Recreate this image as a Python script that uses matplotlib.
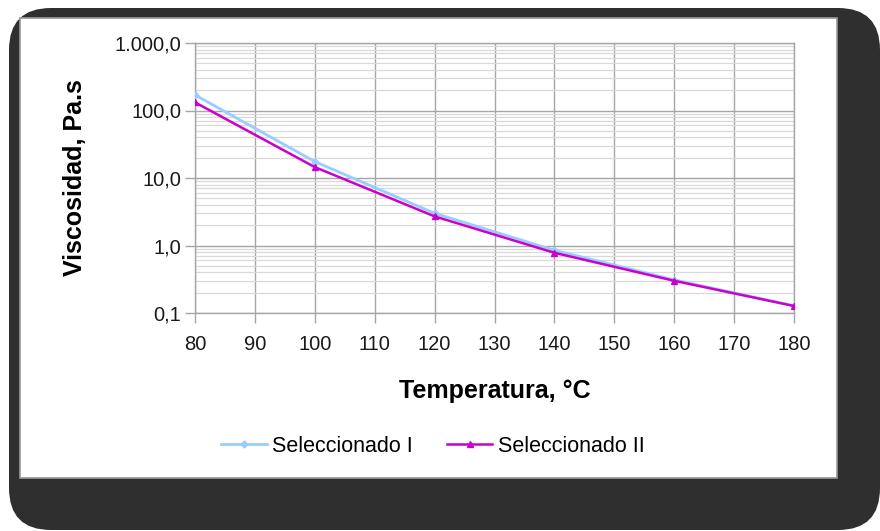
import matplotlib.pyplot as plt
from matplotlib.patches import FancyBboxPatch, Rectangle
from matplotlib.ticker import FixedLocator, LogLocator, NullFormatter

plt.rcParams['font.family'] = ['Liberation Sans', 'DejaVu Sans']

# Viscosidad frente a temperatura
temperatura = [80, 100, 120, 140, 160, 180]
sel_1 = [170.0, 17.5, 3.0, 0.85, 0.31, 0.128]
sel_2 = [132.0, 14.5, 2.7, 0.78, 0.30, 0.127]
y_ticks = [0.1, 1, 10, 100, 1000]
y_labels = ['0,1', '1,0', '10,0', '100,0', '1.000,0']
x_ticks = list(range(80, 181, 10))

fig = plt.figure(figsize=(8.8, 5.31), dpi=100)
W, H = 880, 531

# marco oscuro con esquinas redondeadas y recuadro blanco
bg = fig.add_axes([0, 0, 1, 1])
bg.set_xlim(0, W)
bg.set_ylim(H, 0)
bg.axis('off')
bg.add_patch(FancyBboxPatch((9, 8), W - 9, H - 9,
                            boxstyle='round,pad=0,rounding_size=42',
                            fc='#2f2f2f', ec='none'))
bg.add_patch(Rectangle((20, 18), 817, 460, fc='white', ec='#9a9a9a', lw=1.2))

ax = fig.add_axes([195 / W, 1 - 313 / H, (794 - 195) / W, (313 - 43) / H])
ax.plot(temperatura, sel_1, color='#99ccff', lw=2.0, marker='D', ms=3.5,
        label='Seleccionado I', zorder=3)
ax.plot(temperatura, sel_2, color='#cc00cc', lw=1.8, marker='^', ms=5,
        label='Seleccionado II', zorder=4)

ax.set_yscale('log')
ax.set_ylim(0.1, 1000)
ax.set_xlim(80, 180)
ax.yaxis.set_major_locator(FixedLocator(y_ticks))
ax.set_yticklabels(y_labels)
ax.yaxis.set_minor_locator(LogLocator(base=10, subs=range(2, 10)))
ax.yaxis.set_minor_formatter(NullFormatter())
ax.set_xticks(x_ticks)

ax.grid(which='major', axis='both', color='#a6a6a6', lw=1.0)
ax.grid(which='minor', axis='y', color='#d9d9d9', lw=0.9)
ax.set_axisbelow(True)
for s in ax.spines.values():
    s.set_color('#a6a6a6')
    s.set_linewidth(1.0)
ax.tick_params(which='major', length=7, width=1.0, color='#a6a6a6',
               labelsize=14.5, labelcolor='#1a1a1a')
ax.tick_params(axis='x', pad=9)
ax.tick_params(axis='y', pad=3)
ax.tick_params(which='minor', length=0)

ax.set_xlabel('Temperatura, °C', fontsize=18, fontweight='bold', labelpad=18)
ax.set_ylabel('Viscosidad, Pa.s', fontsize=18, fontweight='bold', labelpad=20)

fig.legend(loc='center', bbox_to_anchor=(433 / W, 1 - 446 / H), ncol=2,
           frameon=False, fontsize=15.5, handlelength=2.1, columnspacing=1.6,
           handletextpad=0.25)

fig.savefig('out.png', dpi=100)
